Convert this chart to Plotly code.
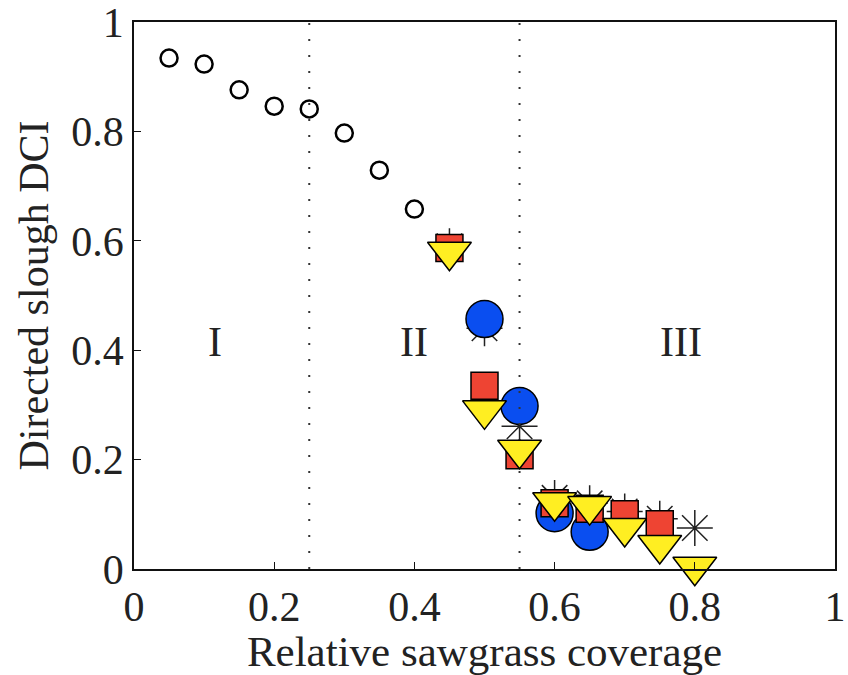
import plotly.graph_objects as go

# Data
x_open = [0.05, 0.10, 0.15, 0.20, 0.25, 0.30, 0.35, 0.40]
y_open = [0.934, 0.923, 0.876, 0.846, 0.841, 0.797, 0.729, 0.658]

x_star = [0.45, 0.50, 0.55, 0.60, 0.65, 0.70, 0.75, 0.80]
y_star = [0.59, 0.44, 0.261, 0.13, 0.12, 0.105, 0.092, 0.075]

x_blue = [0.50, 0.55, 0.60, 0.65]
y_blue = [0.457, 0.298, 0.102, 0.068]

x_red = [0.45, 0.50, 0.55, 0.60, 0.65, 0.70, 0.75]
y_red = [0.587, 0.335, 0.208, 0.12, 0.11, 0.10, 0.082]

x_yel = [0.45, 0.50, 0.55, 0.60, 0.65, 0.70, 0.75, 0.80]
y_yel = [0.58, 0.29, 0.218, 0.122, 0.115, 0.075, 0.044, 0.004]

boundaries = [0.25, 0.55]
region_labels = ["I", "II", "III"]
region_x = [0.115, 0.40, 0.78]
region_y = [0.415, 0.415, 0.415]

tick_vals = [0, 0.2, 0.4, 0.6, 0.8, 1]
tick_text = ["0", "0.2", "0.4", "0.6", "0.8", "1"]

FONT = "Liberation Serif"
TXT = "#222222"

fig = go.Figure()
fig.add_trace(go.Scatter(x=x_open, y=y_open, mode="markers", cliponaxis=False,
                         marker=dict(symbol="circle-open", size=17, color="black", line=dict(width=2.5))))
fig.add_trace(go.Scatter(x=x_star, y=y_star, mode="markers", cliponaxis=False,
                         marker=dict(symbol="asterisk-open", size=30, color="#222",
                                     line=dict(width=1.5, color="#222"))))
fig.add_trace(go.Scatter(x=x_blue, y=y_blue, mode="markers", cliponaxis=False,
                         marker=dict(symbol="circle", size=37, color="#0a4ef0", line=dict(width=1.5, color="black"))))
for b in boundaries:
    fig.add_trace(go.Scatter(x=[b, b], y=[0, 1], mode="lines",
                             line=dict(color="#333", width=2, dash="2px,14px")))
fig.add_trace(go.Scatter(x=x_red, y=y_red, mode="markers", cliponaxis=False,
                         marker=dict(symbol="square", size=27, color="#ee4433", line=dict(width=1.5, color="black"))))
fig.add_trace(go.Scatter(x=x_yel, y=y_yel, mode="markers", cliponaxis=False,
                         marker=dict(symbol="triangle-down", size=38, color="#ffee22", line=dict(width=1.5, color="black"))))

for t, xx, yy in zip(region_labels, region_x, region_y):
    fig.add_annotation(x=xx, y=yy, text=t, showarrow=False,
                       font=dict(family=FONT, size=42, color=TXT))

axis_common = dict(range=[0, 1], showgrid=False, zeroline=False,
                   showline=True, linecolor="#111", linewidth=1.5, mirror=True,
                   ticks="inside", ticklen=7, tickcolor="#111",
                   tickvals=tick_vals, ticktext=tick_text,
                   ticklabeloverflow="allow",
                   tickfont=dict(family=FONT, size=42, color=TXT))

fig.update_xaxes(**axis_common,
                 title=dict(text="Relative sawgrass coverage", font=dict(family=FONT, size=43, color=TXT), standoff=0))
fig.update_yaxes(**axis_common,
                 title=dict(text="Directed slough DCI", font=dict(family=FONT, size=42, color=TXT), standoff=10))

fig.update_layout(width=848, height=675, showlegend=False,
                  plot_bgcolor="white", paper_bgcolor="white",
                  margin=dict(l=134, r=13, t=22, b=106, autoexpand=False))

fig.write_html("out.html")
